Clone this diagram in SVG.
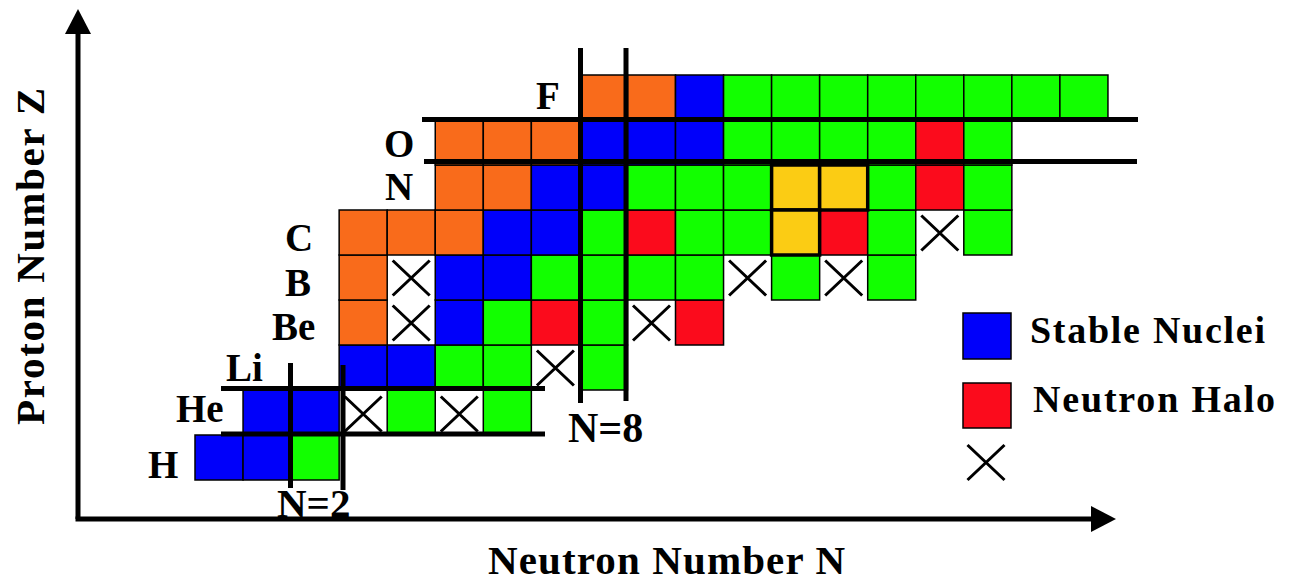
<svg xmlns="http://www.w3.org/2000/svg" xmlns:xlink="http://www.w3.org/1999/xlink" width="1304" height="581" viewBox="0 0 1304 581">
  <style>
    .lbl { font-family: "Liberation Serif", "Times New Roman", serif; font-weight: bold; fill: #000; }
    .cell { stroke: #000; stroke-width: 1.5; }
    .stable { fill: #0000fa; }
    .green { fill: #12ff00; }
    .orange { fill: #f96b1b; }
    .halo { fill: #fb0b1c; }
    .gold { fill: #fbcc14; stroke-width: 3.5; }
    .magic { stroke: #000; stroke-width: 5; fill: none; }
    .axis { stroke: #000; stroke-width: 5; fill: none; }
    .cross { stroke: #000; stroke-width: 3; fill: none; }
  </style>
  <defs>
    <marker id="arrow" viewBox="0 0 25 26" refX="0" refY="13" markerWidth="25" markerHeight="26" markerUnits="userSpaceOnUse" orient="auto">
      <path d="M0,0 L25,13 L0,26 Z" fill="#000"/>
    </marker>
    <path id="x" d="M-18.5,-17.5 L18.5,17.5 M18.5,-17.5 L-18.5,17.5"/>
  </defs>

  <rect width="1304" height="581" fill="#fff"/>

  <!-- axes -->
  <g id="axes">
    <line class="axis" x1="78" y1="519" x2="78" y2="34" marker-end="url(#arrow)"/>
    <line class="axis" x1="75.5" y1="519" x2="1091" y2="519" marker-end="url(#arrow)"/>
  </g>

  <!-- nuclide cells, row by row (Z = 1 at the bottom) -->
  <g id="cells">
    <!-- Z=1 H -->
    <rect class="cell stable" x="195" y="435" width="48.05" height="45"/>
    <rect class="cell stable" x="243.05" y="435" width="48.05" height="45"/>
    <rect class="cell green" x="291.1" y="435" width="48.05" height="45"/>
    <!-- Z=2 He -->
    <rect class="cell stable" x="243.05" y="390" width="48.05" height="45"/>
    <rect class="cell stable" x="291.1" y="390" width="48.05" height="45"/>
    <rect class="cell green" x="387.2" y="390" width="48.05" height="45"/>
    <rect class="cell green" x="483.3" y="390" width="48.05" height="45"/>
    <!-- Z=3 Li -->
    <rect class="cell stable" x="339.15" y="345" width="48.05" height="45"/>
    <rect class="cell stable" x="387.2" y="345" width="48.05" height="45"/>
    <rect class="cell green" x="435.25" y="345" width="48.05" height="45"/>
    <rect class="cell green" x="483.3" y="345" width="48.05" height="45"/>
    <rect class="cell green" x="579.4" y="345" width="48.05" height="45"/>
    <!-- Z=4 Be -->
    <rect class="cell orange" x="339.15" y="300" width="48.05" height="45"/>
    <rect class="cell stable" x="435.25" y="300" width="48.05" height="45"/>
    <rect class="cell green" x="483.3" y="300" width="48.05" height="45"/>
    <rect class="cell halo" x="531.35" y="300" width="48.05" height="45"/>
    <rect class="cell green" x="579.4" y="300" width="48.05" height="45"/>
    <rect class="cell halo" x="675.5" y="300" width="48.05" height="45"/>
    <!-- Z=5 B -->
    <rect class="cell orange" x="339.15" y="255" width="48.05" height="45"/>
    <rect class="cell stable" x="435.25" y="255" width="48.05" height="45"/>
    <rect class="cell stable" x="483.3" y="255" width="48.05" height="45"/>
    <rect class="cell green" x="531.35" y="255" width="48.05" height="45"/>
    <rect class="cell green" x="579.4" y="255" width="48.05" height="45"/>
    <rect class="cell green" x="627.45" y="255" width="48.05" height="45"/>
    <rect class="cell green" x="675.5" y="255" width="48.05" height="45"/>
    <rect class="cell green" x="771.6" y="255" width="48.05" height="45"/>
    <rect class="cell green" x="867.7" y="255" width="48.05" height="45"/>
    <!-- Z=6 C -->
    <rect class="cell orange" x="339.15" y="210" width="48.05" height="45"/>
    <rect class="cell orange" x="387.2" y="210" width="48.05" height="45"/>
    <rect class="cell orange" x="435.25" y="210" width="48.05" height="45"/>
    <rect class="cell stable" x="483.3" y="210" width="48.05" height="45"/>
    <rect class="cell stable" x="531.35" y="210" width="48.05" height="45"/>
    <rect class="cell green" x="579.4" y="210" width="48.05" height="45"/>
    <rect class="cell halo" x="627.45" y="210" width="48.05" height="45"/>
    <rect class="cell green" x="675.5" y="210" width="48.05" height="45"/>
    <rect class="cell green" x="723.55" y="210" width="48.05" height="45"/>
    <rect class="cell halo" x="819.65" y="210" width="48.05" height="45"/>
    <rect class="cell green" x="867.7" y="210" width="48.05" height="45"/>
    <rect class="cell green" x="963.8" y="210" width="48.05" height="45"/>
    <!-- Z=7 N -->
    <rect class="cell orange" x="435.25" y="165" width="48.05" height="45"/>
    <rect class="cell orange" x="483.3" y="165" width="48.05" height="45"/>
    <rect class="cell stable" x="531.35" y="165" width="48.05" height="45"/>
    <rect class="cell stable" x="579.4" y="165" width="48.05" height="45"/>
    <rect class="cell green" x="627.45" y="165" width="48.05" height="45"/>
    <rect class="cell green" x="675.5" y="165" width="48.05" height="45"/>
    <rect class="cell green" x="723.55" y="165" width="48.05" height="45"/>
    <rect class="cell green" x="867.7" y="165" width="48.05" height="45"/>
    <rect class="cell halo" x="915.75" y="165" width="48.05" height="45"/>
    <rect class="cell green" x="963.8" y="165" width="48.05" height="45"/>
    <!-- Z=8 O -->
    <rect class="cell orange" x="435.25" y="120" width="48.05" height="45"/>
    <rect class="cell orange" x="483.3" y="120" width="48.05" height="45"/>
    <rect class="cell orange" x="531.35" y="120" width="48.05" height="45"/>
    <rect class="cell stable" x="579.4" y="120" width="48.05" height="45"/>
    <rect class="cell stable" x="627.45" y="120" width="48.05" height="45"/>
    <rect class="cell stable" x="675.5" y="120" width="48.05" height="45"/>
    <rect class="cell green" x="723.55" y="120" width="48.05" height="45"/>
    <rect class="cell green" x="771.6" y="120" width="48.05" height="45"/>
    <rect class="cell green" x="819.65" y="120" width="48.05" height="45"/>
    <rect class="cell green" x="867.7" y="120" width="48.05" height="45"/>
    <rect class="cell halo" x="915.75" y="120" width="48.05" height="45"/>
    <rect class="cell green" x="963.8" y="120" width="48.05" height="45"/>
    <!-- Z=9 F -->
    <rect class="cell orange" x="579.4" y="75" width="48.05" height="45"/>
    <rect class="cell orange" x="627.45" y="75" width="48.05" height="45"/>
    <rect class="cell stable" x="675.5" y="75" width="48.05" height="45"/>
    <rect class="cell green" x="723.55" y="75" width="48.05" height="45"/>
    <rect class="cell green" x="771.6" y="75" width="48.05" height="45"/>
    <rect class="cell green" x="819.65" y="75" width="48.05" height="45"/>
    <rect class="cell green" x="867.7" y="75" width="48.05" height="45"/>
    <rect class="cell green" x="915.75" y="75" width="48.05" height="45"/>
    <rect class="cell green" x="963.8" y="75" width="48.05" height="45"/>
    <rect class="cell green" x="1011.85" y="75" width="48.05" height="45"/>
    <rect class="cell green" x="1059.9" y="75" width="48.05" height="45"/>
    <!-- highlighted cells with heavy outline -->
    <rect class="cell gold" x="771.6" y="165" width="48.05" height="45"/>
    <rect class="cell gold" x="819.65" y="165" width="48.05" height="45"/>
    <rect class="cell gold" x="771.6" y="210" width="48.05" height="45"/>
  </g>

  <!-- unbound nuclides -->
  <g id="unbound" class="cross">
    <use xlink:href="#x" x="363.2" y="414"/>
    <use xlink:href="#x" x="459.3" y="414"/>
    <use xlink:href="#x" x="555.4" y="368"/>
    <use xlink:href="#x" x="411.2" y="323"/>
    <use xlink:href="#x" x="651.5" y="323"/>
    <use xlink:href="#x" x="411.2" y="278"/>
    <use xlink:href="#x" x="747.6" y="278"/>
    <use xlink:href="#x" x="843.7" y="278"/>
    <use xlink:href="#x" x="939.8" y="233"/>
  </g>

  <!-- magic number shell closures -->
  <g id="magic-lines" class="magic">
    <line x1="290.5" y1="363" x2="290.5" y2="488"/>
    <line x1="343" y1="365" x2="343" y2="490"/>
    <line x1="221" y1="388.5" x2="545" y2="388.5"/>
    <line x1="221" y1="434" x2="545" y2="434"/>
    <line x1="580.5" y1="48" x2="580.5" y2="403"/>
    <line x1="626" y1="48" x2="626" y2="401"/>
    <line x1="422" y1="119.5" x2="1138" y2="119.5"/>
    <line x1="424" y1="161.5" x2="1137" y2="161.5"/>
  </g>

  <!-- element symbols -->
  <g id="elements" class="lbl" font-size="39">
    <text x="148" y="478">H</text>
    <text x="176" y="422">He</text>
    <text x="226" y="381">Li</text>
    <text x="272" y="340">Be</text>
    <text x="285" y="296">B</text>
    <text x="285" y="251">C</text>
    <text x="385" y="200">N</text>
    <text x="384" y="157">O</text>
    <text x="536" y="109">F</text>
  </g>

  <!-- magic number labels -->
  <g id="magic-labels" class="lbl">
    <text x="277" y="517" font-size="41">N=2</text>
    <text x="568" y="442" font-size="42">N=8</text>
  </g>

  <!-- axis titles -->
  <g id="axis-titles" class="lbl" font-size="41">
    <text x="488" y="574" textLength="357" lengthAdjust="spacing">Neutron Number N</text>
    <text transform="translate(44,425) rotate(-90)" textLength="337" lengthAdjust="spacing">Proton Number Z</text>
  </g>

  <!-- legend -->
  <g id="legend">
    <rect class="cell stable" x="963" y="313" width="48" height="46"/>
    <text class="lbl" x="1030" y="343" font-size="38" textLength="235" lengthAdjust="spacing">Stable Nuclei</text>
    <rect class="cell halo" x="963" y="383" width="48" height="45"/>
    <text class="lbl" x="1033" y="412" font-size="38" textLength="242" lengthAdjust="spacing">Neutron Halo</text>
    <use class="cross" xlink:href="#x" x="986" y="462.5"/>
  </g>
</svg>
